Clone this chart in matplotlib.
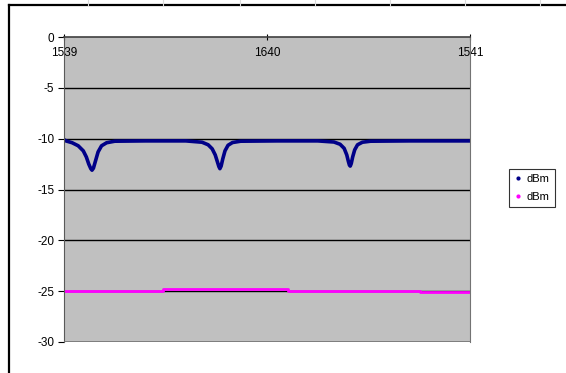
import numpy as np
from matplotlib import pyplot
from matplotlib.lines import Line2D

# wavelength axis labels as printed
xtick_pos    = [1539.0, 1540.0, 1541.0]
xtick_labels = ['1539', '1640', '1541']
ytick_pos    = [0, -5, -10, -15, -20, -25, -30]

# transmitted spectrum (blue): flat level with three notches
blue_x = [1539.000, 1539.010, 1539.040, 1539.070, 1539.095, 1539.110, 1539.122,
          1539.132, 1539.138, 1539.145, 1539.155, 1539.168, 1539.185, 1539.210,
          1539.250, 1539.400, 1539.600, 1539.680, 1539.710, 1539.730, 1539.745,
          1539.756, 1539.763, 1539.768, 1539.774, 1539.782, 1539.793, 1539.808,
          1539.830, 1539.870, 1540.050, 1540.250, 1540.330, 1540.360, 1540.380,
          1540.393, 1540.401, 1540.406, 1540.410, 1540.415, 1540.422, 1540.432,
          1540.446, 1540.470, 1540.510, 1540.700, 1541.000]
blue_y = [-10.10, -10.22, -10.40, -10.70, -11.20, -11.80, -12.50,
          -12.95, -13.10, -12.90, -12.20, -11.30, -10.70, -10.40,
          -10.25, -10.22, -10.22, -10.35, -10.60, -11.00, -11.60,
          -12.30, -12.75, -12.95, -12.70, -12.00, -11.20, -10.65,
          -10.38, -10.25, -10.22, -10.22, -10.33, -10.55, -10.95,
          -11.60, -12.25, -12.60, -12.70, -12.45, -11.80, -11.10,
          -10.60, -10.35, -10.25, -10.22, -10.22]

# source level (magenta): step-wise readings
mag_x = [1539.000, 1539.488, 1539.488, 1540.103, 1540.103, 1540.754, 1540.754, 1541.000]
mag_y = [-24.98, -24.98, -24.76, -24.76, -25.00, -25.00, -25.10, -25.10]

series_names = ['dBm', 'dBm']

pyplot.rcParams['font.family'] = ['Liberation Sans', 'DejaVu Sans']
pyplot.rcParams['axes.unicode_minus'] = False

fig = pyplot.figure(figsize=(5.66, 3.73), dpi=100)
fig.patch.set_facecolor('white')

# sheet frame lines (left and top) plus faint cell borders above
fig.add_artist(Line2D([9/566, 9/566], [0, 1-5/373], color='black', lw=1.6,
                      transform=fig.transFigure))
fig.add_artist(Line2D([9/566, 1], [1-5/373, 1-5/373], color='black', lw=1.6,
                      transform=fig.transFigure))
for px in [88, 163, 240, 315, 390, 465, 540]:
    fig.add_artist(Line2D([px/566, px/566], [1-5/373, 1], color='0.85', lw=0.8,
                          transform=fig.transFigure))

ax = fig.add_axes([64/566, 1-342/373, 406/566, 305/373])
ax.set_facecolor('#c0c0c0')

ax.plot(mag_x, mag_y, color='#ff00ff', lw=2.0, solid_capstyle='butt')
ax.plot(blue_x, blue_y, color='#000088', lw=2.6, solid_joinstyle='round')

ax.set_xlim(1539, 1541)
ax.set_ylim(-30, 0)

for yv in [-5, -10, -15, -20, -25]:
    ax.axhline(yv, color='black', lw=1.0, zorder=1)

# x axis sits at the zero line, labels hang inside the plot
ax.spines['bottom'].set_position(('data', 0))
ax.spines['bottom'].set_color('0.25')
ax.spines['bottom'].set_linewidth(1.2)
ax.spines['top'].set_visible(False)
ax.spines['left'].set_color('0.35')
ax.spines['right'].set_color('0.45')
ax.axhline(-30, color='0.45', lw=1.2, zorder=3)

ax.set_xticks(xtick_pos)
ax.set_xticklabels(xtick_labels)
ax.set_yticks(ytick_pos)
ax.tick_params(axis='x', direction='inout', length=5, width=0.8, pad=5,
               labelsize=8.5, colors='black')
ax.tick_params(axis='y', direction='out', length=4, width=0.8, pad=3,
               labelsize=8.5)

handles = [Line2D([], [], color='#000088', marker='o', ms=2, lw=0),
           Line2D([], [], color='#ff00ff', marker='o', ms=2, lw=0)]
leg = fig.legend(handles, series_names, loc='center', bbox_to_anchor=(532/566, 1-188/373),
                 fontsize=8, frameon=True, fancybox=False, handlelength=0.6,
                 handletextpad=0.4, borderpad=0.5, labelspacing=0.7)
leg.get_frame().set_edgecolor('black')
leg.get_frame().set_linewidth(0.8)

fig.savefig('out.png', dpi=100)
